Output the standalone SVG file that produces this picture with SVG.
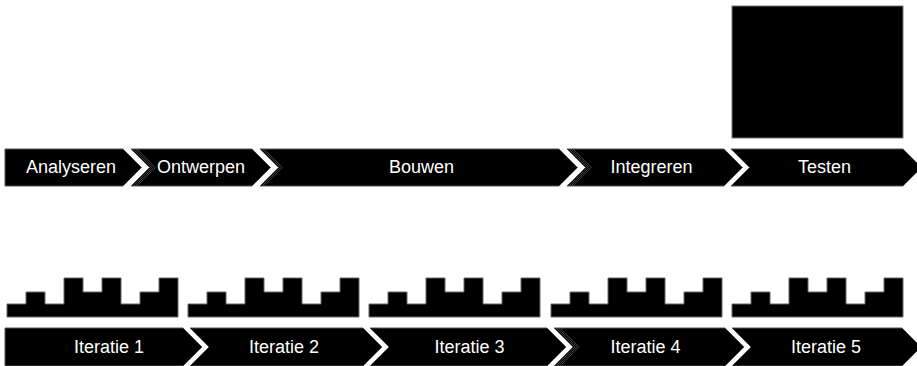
<svg xmlns="http://www.w3.org/2000/svg" xmlns:xlink="http://www.w3.org/1999/xlink" width="917" height="366" viewBox="0 0 917 366">
  <style>
    .seg { fill: #000; stroke: #555; stroke-width: 1; }
    .lbl { fill: #fff; font-family: "Liberation Sans", Arial, sans-serif; font-size: 18px; text-anchor: middle; }
    .ghost { fill: none; stroke: #4a4a4a; stroke-width: 0.8; }
    .blk { fill: #000; stroke: #666; stroke-width: 1; }
  </style>
  <defs>
    <!-- stepped increment block, 9 columns of 19px -->
    <path id="increment" d="M0,26 H19 V14 H38 V26 H57 V0 H76 V14 H95 V0 H114 V26 H133 V14 H152 V0 H171 V39 H0 Z"/>
  </defs>
  <rect width="917" height="366" fill="#fff"/>

  <!-- product box -->
  <g id="product">
    <rect x="732" y="6" width="171" height="132" fill="#000" stroke="#777" stroke-width="1"/>
  </g>

  <!-- waterfall phases -->
  <g id="phase-analyseren">
    <path class="seg" d="M5,149 H123 L141.5,167.5 L123,186 H5 Z"/>
    <text class="lbl" x="71" y="173">Analyseren</text>
  </g>
  <g id="phase-ontwerpen">
    <path class="seg" d="M131,149 H252 L270.5,167.5 L252,186 H131 L149.5,167.5 Z"/>
    <path class="ghost" d="M133,149 L151.5,167.5 L133,186 M135,149 L153.5,167.5 L135,186 M137,149 L155.5,167.5 L137,186"/>
    <text class="lbl" x="201" y="173">Ontwerpen</text>
  </g>
  <g id="phase-bouwen">
    <path class="seg" d="M260,149 H559 L577.5,167.5 L559,186 H260 L278.5,167.5 Z"/>
    <path class="ghost" d="M262,149 L280.5,167.5 L262,186 M264,149 L282.5,167.5 L264,186"/>
    <text class="lbl" x="421.5" y="173">Bouwen</text>
  </g>
  <g id="phase-integreren">
    <path class="seg" d="M567,149 H724 L742.5,167.5 L724,186 H567 L585.5,167.5 Z"/>
    <path class="ghost" d="M569,149 L587.5,167.5 L569,186 M571,149 L589.5,167.5 L571,186 M573,149 L591.5,167.5 L573,186"/>
    <text class="lbl" x="651.5" y="173">Integreren</text>
  </g>
  <g id="phase-testen">
    <path class="seg" d="M731,149 H903 L921.5,167.5 L903,186 H731 L749.5,167.5 Z"/>
    <text class="lbl" x="824.5" y="173">Testen</text>
  </g>

  <!-- increments -->
  <g id="increment-1"><use xlink:href="#increment" href="#increment" class="blk" transform="translate(7,278)"/></g>
  <g id="increment-2"><use xlink:href="#increment" href="#increment" class="blk" transform="translate(188,278)"/></g>
  <g id="increment-3"><use xlink:href="#increment" href="#increment" class="blk" transform="translate(369,278)"/></g>
  <g id="increment-4"><use xlink:href="#increment" href="#increment" class="blk" transform="translate(551,278)"/></g>
  <g id="increment-5"><use xlink:href="#increment" href="#increment" class="blk" transform="translate(732,278)"/></g>

  <!-- iterations -->
  <g id="iteratie-1">
    <path class="seg" d="M5,328 H183 L202,347 L183,366 H5 Z"/>
    <text class="lbl" x="109" y="353">Iteratie 1</text>
  </g>
  <g id="iteratie-2">
    <path class="seg" d="M190,328 H363 L382,347 L363,366 H190 L209,347 Z"/>
    <text class="lbl" x="284" y="353">Iteratie 2</text>
  </g>
  <g id="iteratie-3">
    <path class="seg" d="M370,328 H547 L566,347 L547,366 H370 L389,347 Z"/>
    <text class="lbl" x="469.5" y="353">Iteratie 3</text>
  </g>
  <g id="iteratie-4">
    <path class="seg" d="M554,328 H725 L744,347 L725,366 H554 L573,347 Z"/>
    <path class="ghost" d="M556,328 L575,347 L556,366 M558,328 L577,347 L558,366 M560,328 L579,347 L560,366"/>
    <text class="lbl" x="645.5" y="353">Iteratie 4</text>
  </g>
  <g id="iteratie-5">
    <path class="seg" d="M732,328 H902 L921,347 L902,366 H732 L751,347 Z"/>
    <text class="lbl" x="826" y="353">Iteratie 5</text>
  </g>

  <g id="connectors"/>
</svg>
